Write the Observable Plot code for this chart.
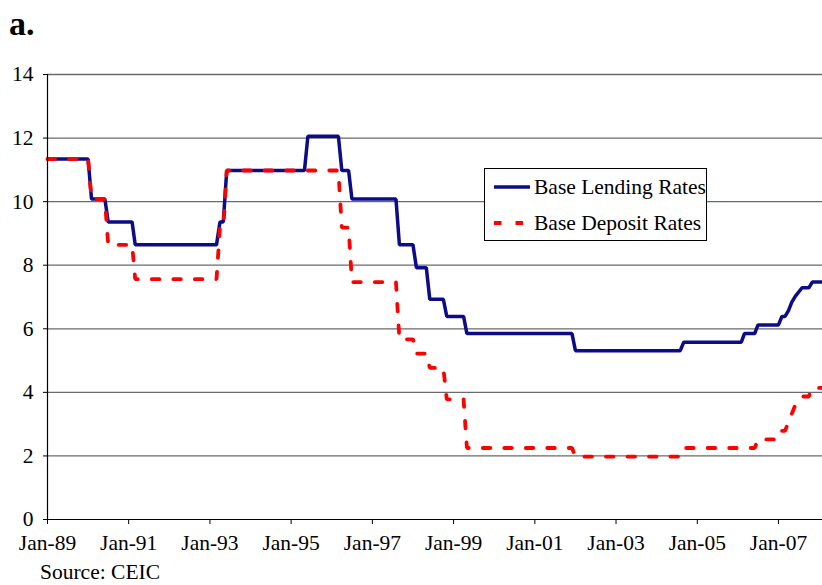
<!DOCTYPE html>
<html>
<head>
<meta charset="utf-8">
<script src="https://cdn.jsdelivr.net/npm/d3@7"></script>
<script src="https://cdn.jsdelivr.net/npm/@observablehq/plot@0.6"></script>
<style>
  body { margin: 0; background: #fff; }
  #wrap { position: relative; width: 822px; height: 585px; overflow: hidden; font-family: "Liberation Serif", "Times New Roman", serif; color: #000; }
  #title { position: absolute; left: 9px; top: 4px; font-weight: bold; font-size: 34px; line-height: 40px; }
  #chart { position: absolute; left: 0; top: 50px; }
  #legend { position: absolute; left: 484px; top: 168px; width: 223px; height: 73px; border: 1px solid #000; background: #fff; box-sizing: border-box; }
  #legend .row { position: absolute; left: 8px; height: 26px; display: flex; align-items: center; font-size: 21.5px; white-space: nowrap; }
  #legend svg { margin-right: 3px; }
  #source { position: absolute; left: 40px; top: 561px; font-size: 21.5px; line-height: 22px; }
</style>
</head>
<body>
<div id="wrap">
  <div id="title">a.</div>
  <div id="chart"></div>
  <div id="legend"></div>
  <div id="source">Source: CEIC</div>
</div>
<script>
// Vertices of the monthly step series (month, value)
const months = [
  "1989-01","1990-01","1990-02","1990-06","1990-07","1991-02","1991-03","1993-03","1993-04","1993-05",
  "1993-06","1995-05","1995-06","1996-03","1996-04","1996-06","1996-07","1997-08","1997-09","1998-01",
  "1998-02","1998-05","1998-06","1998-10","1998-11","1999-04","1999-05","2001-12","2002-01","2004-08",
  "2004-09","2006-02","2006-03","2006-06","2006-07","2007-01","2007-02","2007-03","2007-04","2007-05",
  "2007-06","2007-08","2007-10","2007-11","2008-02"
];
const lendingRates = [
  11.34,11.34,10.08,10.08,9.36,9.36,8.64,8.64,9.36,9.36,
  10.98,10.98,12.06,12.06,10.98,10.98,10.08,10.08,8.64,8.64,
  7.92,7.92,6.93,6.93,6.39,6.39,5.85,5.85,5.31,5.31,
  5.58,5.58,5.85,5.85,6.12,6.12,6.39,6.39,6.57,6.84,
  7.02,7.29,7.29,7.47,7.47
];
const depositRates = [
  11.34,11.34,10.08,10.08,8.64,8.64,7.56,7.56,9.18,9.18,
  10.98,10.98,10.98,10.98,9.18,9.18,7.47,7.47,5.67,5.67,
  5.22,5.22,4.77,4.77,3.78,3.78,2.25,2.25,1.98,1.98,
  2.25,2.25,2.25,2.25,2.52,2.52,2.79,2.79,3.06,3.33,
  3.60,3.87,3.87,4.14,4.14
];
const seriesNames = ["Base Lending Rates", "Base Deposit Rates"];
const yTicks = [0, 2, 4, 6, 8, 10, 12, 14];
const xTickLabels = ["Jan-89","Jan-91","Jan-93","Jan-95","Jan-97","Jan-99","Jan-01","Jan-03","Jan-05","Jan-07"];
const xStart = "1989-01", xEnd = "2008-02";

const parseM = d3.utcParse("%Y-%m");
const parseT = d3.utcParse("%b-%y");
const rows = months.map((m, i) => ({date: parseM(m), lending: lendingRates[i], deposit: depositRates[i]}));
const xTicks = xTickLabels.map(parseT);

const blue = "#0c0c88", red = "#ff0000";
const font = {fontFamily: "'Liberation Serif', 'Times New Roman', serif", fontSize: "21.5px", color: "#000", background: "transparent", overflow: "visible"};

const chart = Plot.plot({
  width: 822,
  height: 509,
  marginLeft: 47,
  marginRight: 0,
  marginTop: 24,
  marginBottom: 40,
  style: font,
  x: {type: "utc", domain: [parseM(xStart), parseM(xEnd)]},
  y: {domain: [0, 14]},
  marks: [
    Plot.ruleY(yTicks.filter(d => d > 0), {stroke: "#6a6a6a", strokeWidth: 1.3}),
    Plot.axisY({ticks: yTicks, tickSize: 4, tickPadding: 10, label: null, fontSize: 21.5}),
    Plot.axisX({ticks: xTicks, tickFormat: d3.utcFormat("%b-%y"), tickSize: 5, tickPadding: 10, label: null, fontSize: 21.5}),
    Plot.line(rows, {x: "date", y: "lending", stroke: blue, strokeWidth: 3.5, strokeLinejoin: "miter"}),
    Plot.line(rows, {x: "date", y: "deposit", stroke: red, strokeWidth: 3.8, strokeDasharray: "7.5,14", strokeLinejoin: "miter"}),
    Plot.ruleY([0], {stroke: "#000", strokeWidth: 1.2}),
    Plot.ruleX([parseM(xStart)], {stroke: "#000", strokeWidth: 1.2})
  ]
});
document.getElementById("chart").appendChild(chart);

const legend = document.getElementById("legend");
const styles = [
  {stroke: blue, dash: null, w: 3.5},
  {stroke: red, dash: "7.5,14", w: 3.8}
];
seriesNames.forEach((name, i) => {
  const row = document.createElement("div");
  row.className = "row";
  row.style.top = (i === 0 ? 5 : 41) + "px";
  const sw = styles[i];
  row.innerHTML = `<svg width="38" height="10"><line x1="1" x2="37" y1="5" y2="5" stroke="${sw.stroke}" stroke-width="${sw.w}" ${sw.dash ? `stroke-dasharray="${sw.dash}"` : ""}/></svg><span>${name}</span>`;
  legend.appendChild(row);
});
</script>
</body>
</html>
